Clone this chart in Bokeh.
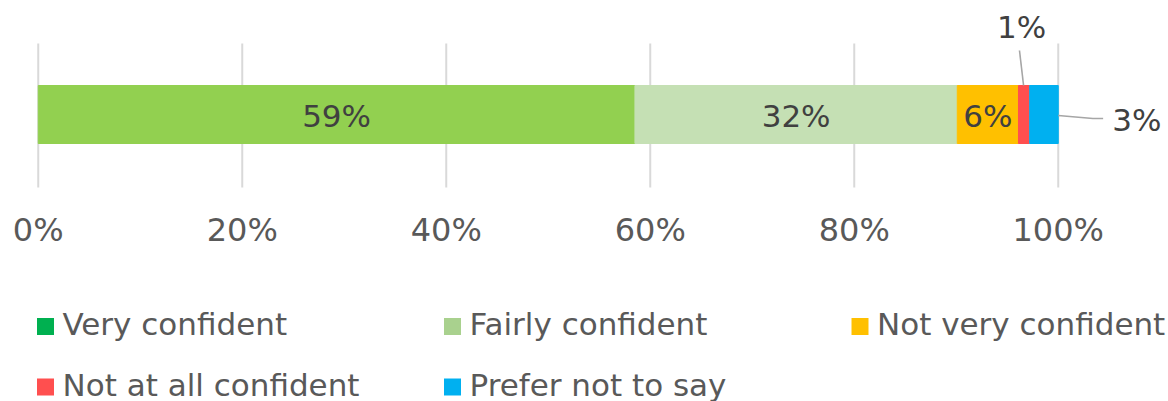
import numpy as np
from bokeh.plotting import figure
from bokeh.models import Range1d, ColumnDataSource
from bokeh.core.properties import value
from bokeh.embed import file_html
from bokeh.resources import INLINE

# ---- data ----
categories = ["Very confident", "Fairly confident", "Not very confident",
              "Not at all confident", "Prefer not to say"]
values = [58.5, 31.6, 6.0, 1.1, 2.8]
value_labels = ["59%", "32%", "6%", "1%", "3%"]
bar_colors = ["#92D050", "#C5E0B4", "#FFC000", "#FF4F4F", "#00B0F0"]
legend_colors = ["#00B050", "#A9D18E", "#FFC000", "#FF4F4F", "#00B0F0"]
tick_values = [0, 20, 40, 60, 80, 100]
tick_labels = ["0%", "20%", "40%", "60%", "80%", "100%"]

FONT = "DejaVu Sans"

rights = np.cumsum(values)
lefts = rights - np.array(values)
centers = (lefts + rights) / 2

# ---- layout (pixels) ----
W, H = 1168, 401
px_per_unit = 10.2
x0_px = 37.75
x_start = -x0_px / px_per_unit
x_end = x_start + W / px_per_unit


def px2x(px):
    return x_start + px / px_per_unit


TS = -13  # text baseline correction
GRID_TOP, GRID_BOTTOM = 43, 187
BAR_Y, BAR_H = 114, 58
TICK_BASE = 242 + TS

p = figure(width=W, height=H, x_range=Range1d(x_start, x_end), y_range=Range1d(H, 0),
           min_border=0, x_axis_location=None, y_axis_location=None,
           output_backend="svg", toolbar_location=None)
p.outline_line_color = None
p.grid.visible = False
p.background_fill_color = "white"

# grid lines at tick values
p.segment(x0=tick_values, x1=tick_values, y0=[GRID_TOP] * len(tick_values),
          y1=[GRID_BOTTOM] * len(tick_values), line_color="#D9D9D9", line_width=2)

# tick labels
p.text(x=tick_values, y=[TICK_BASE] * len(tick_values), text=tick_labels,
       text_align="center", text_baseline="alphabetic", text_font=value(FONT),
       text_font_size="32px", text_color="#595959")

# stacked bar
src = ColumnDataSource(dict(y=[BAR_Y] * len(values), left=lefts, right=rights, color=bar_colors))
p.hbar(y="y", left="left", right="right", height=BAR_H, color="color", source=src)

# inside labels
p.text(x=centers[:3], y=[BAR_Y + 14 + TS] * 3, text=value_labels[:3], text_align="center",
       text_baseline="alphabetic", text_font=value(FONT), text_font_size="31px",
       text_color="#404040")

# outside labels with leader lines
lead_color = "#A6A6A6"
bar_top = BAR_Y - BAR_H / 2
p.line([centers[3] - 0.45, centers[3] - 0.05], [50, bar_top], line_color=lead_color, line_width=1.6)
p.text(x=[centers[3] - 0.25], y=[39 + TS], text=[value_labels[3]], text_align="center",
       text_baseline="alphabetic", text_font=value(FONT), text_font_size="31px",
       text_color="#404040")
p.line([rights[4], rights[4] + 3.4, rights[4] + 4.4], [BAR_Y + 1, BAR_Y + 4, BAR_Y + 4],
       line_color=lead_color, line_width=1.6)
p.text(x=[rights[4] + 5.3], y=[BAR_Y + 18 + TS], text=[value_labels[4]], text_align="left",
       text_baseline="alphabetic", text_font=value(FONT), text_font_size="31px",
       text_color="#404040")

# legend (drawn as marker squares + texts)
col_px = [45, 452, 859.5]
row_px = [326, 386.5]
mx, my, tx, ty = [], [], [], []
for i in range(len(categories)):
    c, r = i % 3, i // 3
    mx.append(px2x(col_px[c]))
    my.append(row_px[r])
    tx.append(px2x(col_px[c] + 17))
    ty.append(row_px[r] + 10.5 + TS)
p.rect(x=mx, y=my, width=17, height=17, width_units="screen", height_units="screen",
       fill_color=legend_colors, line_color=None)
p.text(x=tx, y=ty, text=categories, text_align="left", text_baseline="alphabetic",
       text_font=value(FONT), text_font_size="31px", text_color="#595959")

open("out.html", "w").write(file_html(p, INLINE))
